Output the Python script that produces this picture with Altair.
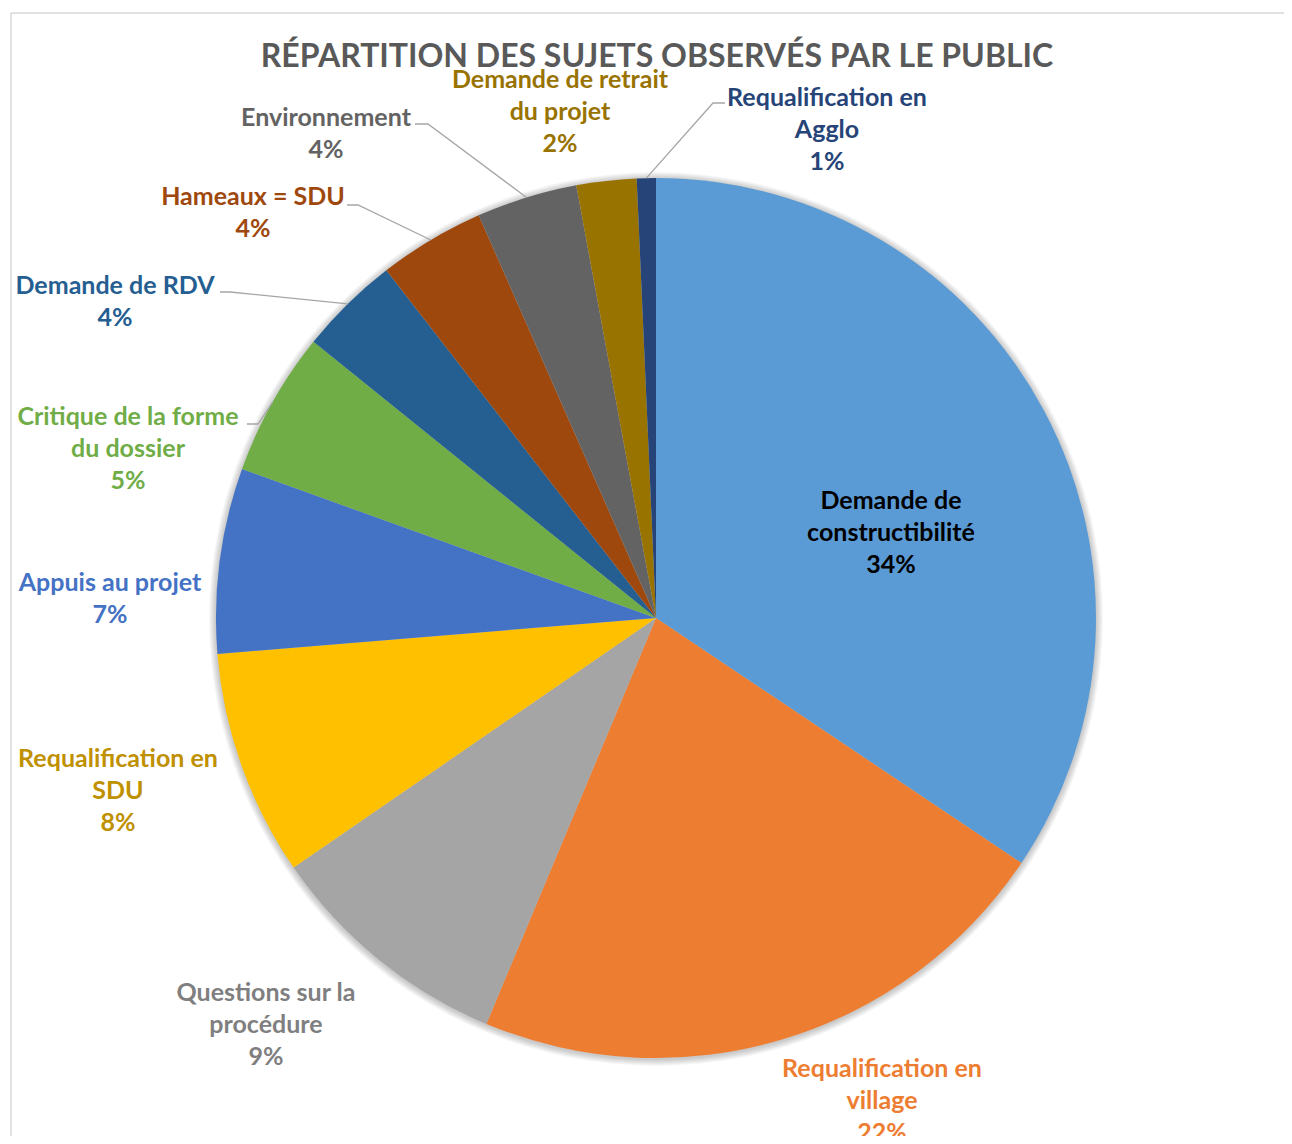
import math
import altair as alt
import pandas as pd

# ---------------- data ----------------
CATEGORIES = [
    "Demande de constructibilité",
    "Requalification en village",
    "Questions sur la procédure",
    "Requalification en SDU",
    "Appuis au projet",
    "Critique de la forme du dossier",
    "Demande de RDV",
    "Hameaux = SDU",
    "Environnement",
    "Demande de retrait du projet",
    "Requalification en Agglo",
]
VALUES = [34.4, 21.9, 9.1, 8.3, 6.8, 5.3, 3.7, 3.9, 3.7, 2.2, 0.7]
TITLE = "RÉPARTITION DES SUJETS OBSERVÉS PAR LE PUBLIC"

# ---------------- styles / layout ----------------
COLORS = ["#5B9BD5", "#ED7D31", "#A5A5A5", "#FFC000", "#4472C4", "#70AD47",
          "#255E91", "#9E480E", "#636363", "#997300", "#264478"]
LABEL_COLORS = ["#000000", "#ED7D31", "#7F7F7F", "#BF9000", "#4472C4", "#70AD47",
                "#255E91", "#9E480E", "#636363", "#997300", "#264478"]
LABEL_LINES = [
    ["Demande de", "constructibilité"],
    ["Requalification en", "village"],
    ["Questions sur la", "procédure"],
    ["Requalification en", "SDU"],
    ["Appuis au projet"],
    ["Critique de la forme", "du dossier"],
    ["Demande de RDV"],
    ["Hameaux = SDU"],
    ["Environnement"],
    ["Demande de retrait", "du projet"],
    ["Requalification en", "Agglo"],
]
# first-line centre of each label block, relative to the pie centre (px, y down)
LABEL_OFFSETS = [(235, -117), (226, 451), (-390, 375), (-538, 141), (-546, -35),
                 (-528, -201), (-541, -332), (-403, -421), (-330, -500),
                 (-96, -538), (171, -520)]
# leader lines: label-side start and elbow (relative to centre); end is on slice edge
LEADERS = {
    5: [(-409, -194), (-398, -194)],
    6: [(-436, -326), (-426, -326)],
    7: [(-309, -413), (-298, -413)],
    8: [(-241, -494), (-228, -494)],
    10: [(69, -515), (57, -515)],
}

W, H = 1276, 1128
CX, CY = 648, 610
R = 440
LINE_H = 32
FONT = "Lato"

total = sum(VALUES)
pie_df = pd.DataFrame({
    "cat": CATEGORIES,
    "value": VALUES,
    "idx": list(range(len(CATEGORIES))),
    "col": COLORS,
})

mids = []
cum = 0.0
for v in VALUES:
    mids.append((cum + v / 2) / total * 2 * math.pi)
    cum += v

text_rows = []
for i, v in enumerate(VALUES):
    lines = LABEL_LINES[i] + [f"{round(v)}%"]
    dx, dy = LABEL_OFFSETS[i]
    for j, ln in enumerate(lines):
        text_rows.append({"px": dx, "py": dy + j * LINE_H, "txt": ln,
                          "tcol": LABEL_COLORS[i], "key": f"{i}-{j}"})
text_df = pd.DataFrame(text_rows)

line_rows = []
for i, pts in LEADERS.items():
    a = mids[i]
    end = (R * math.sin(a), -R * math.cos(a))
    for k, (x, y) in enumerate(pts + [end]):
        line_rows.append({"lid": i, "seq": k, "px": x, "py": y})
line_df = pd.DataFrame(line_rows)

xs = alt.Scale(domain=[-CX, W - CX], nice=False, zero=False)
ys = alt.Scale(domain=[-CY, H - CY], nice=False, zero=False, reverse=True)

shadow = alt.layer(*[
    alt.Chart(pd.DataFrame({"k": [k]})).mark_arc(
        radius=R + k, theta=0, theta2=2 * math.pi, color="#000000", opacity=0.03
    ).encode(x=alt.value(CX), y=alt.value(CY + 1))
    for k in range(1, 8)
])

pie = alt.Chart(pie_df).mark_arc(radius=R, stroke=None).encode(
    theta=alt.Theta("value:Q", stack=True),
    order=alt.Order("idx:Q", sort="ascending"),
    color=alt.Color("col:N", scale=None),
    x=alt.value(CX),
    y=alt.value(CY),
)

leaders = alt.Chart(line_df).mark_line(color="#A6A6A6", strokeWidth=1.3).encode(
    x=alt.X("px:Q", scale=xs, axis=None),
    y=alt.Y("py:Q", scale=ys, axis=None),
    detail="lid:N",
    order="seq:Q",
)

labels = alt.Chart(text_df).mark_text(
    font=FONT, fontSize=25, fontWeight="bold", align="center", baseline="middle"
).encode(
    x=alt.X("px:Q", scale=xs, axis=None),
    y=alt.Y("py:Q", scale=ys, axis=None),
    text="txt:N",
    color=alt.Color("tcol:N", scale=None),
)

title = alt.Chart(pd.DataFrame({"t": [TITLE]})).mark_text(
    font=FONT, fontSize=32, fontWeight="bold", color="#595959",
    align="center", baseline="middle"
).encode(text="t:N", x=alt.value(649), y=alt.value(49))

frame = alt.Chart(pd.DataFrame({"a": [0]})).mark_rule(color="#D9D9D9", strokeWidth=1.5)
frame_l = frame.encode(x=alt.value(3), y=alt.value(5), y2=alt.value(H))
frame_t = frame.encode(y=alt.value(5), x=alt.value(3), x2=alt.value(W))

chart = alt.layer(frame_l, frame_t, shadow, pie, leaders, labels, title).properties(
    width=W, height=H, autosize="none", padding=0, background="white"
).configure_view(stroke=None)

chart.save("out.html", embed_options={"renderer": "svg", "actions": False})
